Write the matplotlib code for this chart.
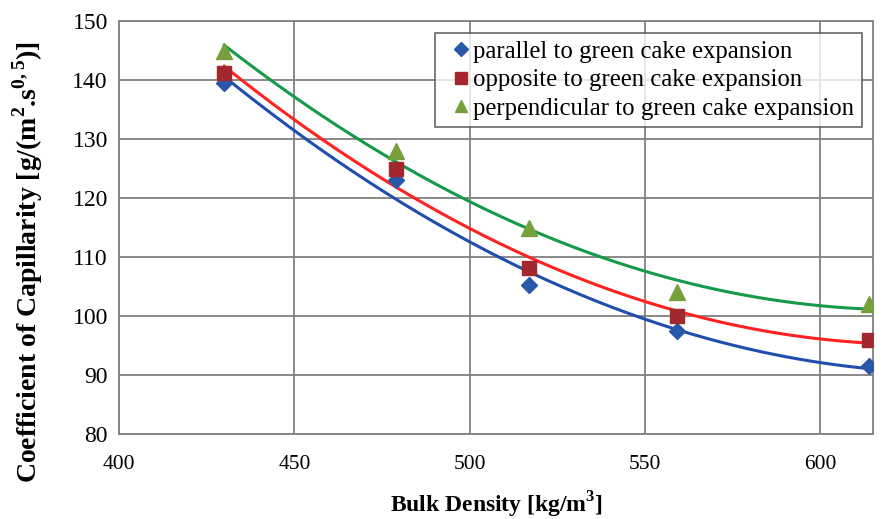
import matplotlib.pyplot as plt
import numpy as np

plt.rcParams['font.family'] = ['Liberation Serif', 'DejaVu Serif']

bulk_density = [430, 479, 517, 559, 614]
parallel = [139.5, 123.0, 105.2, 97.4, 91.5]
opposite = [141.2, 125.0, 108.2, 100.0, 96.0]
perpendicular = [145.0, 128.0, 115.0, 104.0, 102.0]

labels = ["parallel to green cake expansion",
          "opposite to green cake expansion",
          "perpendicular to green cake expansion"]
marker_colors = ["#2A58A8", "#A3282D", "#76A03C"]
line_colors = ["#1F4EB0", "#FF2222", "#149A48"]
markers = ["D", "s", "^"]
sizes = [8, 10, 11]

fig = plt.figure(figsize=(8.87, 5.19), dpi=100)
ax = fig.add_axes([119 / 887, 1 - 434 / 519, (873 - 119) / 887, (434 - 21) / 519])

x = np.array(bulk_density)
xs = np.linspace(x.min(), x.max(), 200)
for ys, lab, mc, lc, mk, ms in zip([parallel, opposite, perpendicular], labels,
                                   marker_colors, line_colors, markers, sizes):
    # second order trendline, like the Excel one
    coef = np.polyfit(x, ys, 2)
    ax.plot(xs, np.polyval(coef, xs), color=lc, lw=2.2, zorder=2)
    ax.plot(x, ys, linestyle="none", marker=mk, ms=ms, color=mc, label=lab, zorder=3)

ax.set_xlim(400, 615)
ax.set_ylim(80, 150)
ax.set_xticks([400, 450, 500, 550, 600])
ax.set_yticks(range(80, 151, 10))
ax.grid(True, color="#808080", lw=1.3)
ax.set_axisbelow(True)
for s in ax.spines.values():
    s.set_color("#808080")
    s.set_linewidth(1.3)
ax.tick_params(length=0)
ax.tick_params(axis="y", labelsize=17, pad=8)
ax.tick_params(axis="x", labelsize=15.5, pad=15)

fig.text(496 / 887, 1 - 505 / 519, "Bulk Density [kg/m$^\\mathregular{3}$]",
         fontsize=17, fontweight="bold", ha="center", va="center")
fig.text(28 / 887, 1 - 262 / 519,
         "Coefficient of Capillarity [g/(m$^\\mathregular{2}$.s$^\\mathregular{0,5}$)]",
         fontsize=20, fontweight="bold", ha="center", va="center", rotation=90)

leg = ax.legend(loc="upper right", bbox_to_anchor=(0.985, 0.971), fontsize=17.8,
                frameon=True, fancybox=False, edgecolor="#404040",
                handlelength=1.5, handletextpad=-0.25, borderpad=0.3, labelspacing=0.25,
                borderaxespad=0, markerscale=0.85)
leg.get_frame().set_linewidth(1.2)

fig.savefig("out.png", dpi=100)
